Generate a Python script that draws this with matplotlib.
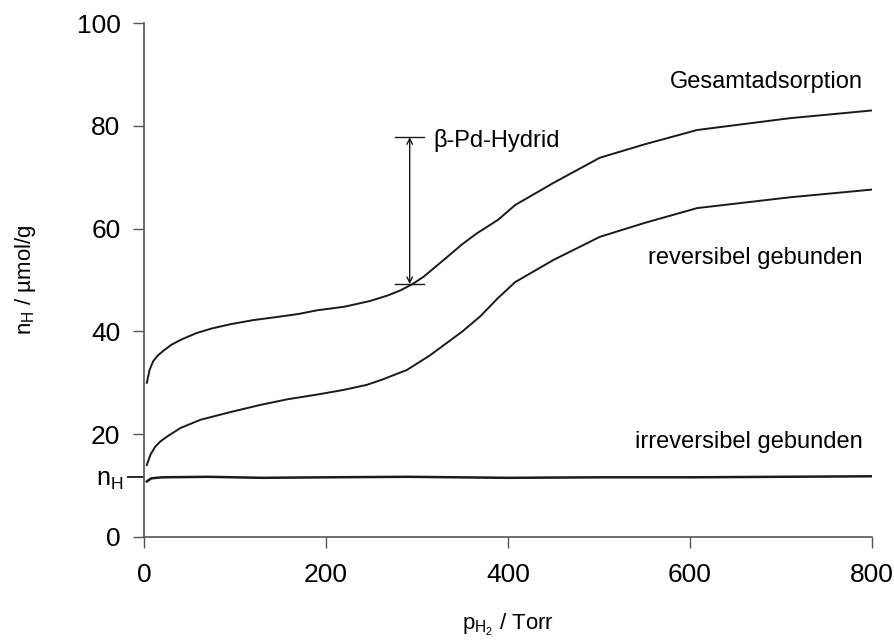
import numpy as np
import matplotlib
matplotlib.use("Agg")
import matplotlib.pyplot as plt

plt.rcParams['font.family'] = ['Liberation Sans', 'DejaVu Sans']
plt.rcParams['mathtext.fontset'] = 'custom'
plt.rcParams['mathtext.rm'] = 'Liberation Sans'
plt.rcParams['mathtext.it'] = 'Liberation Sans'

# Gesamtadsorption
p_ges = [3, 6, 10, 15, 21, 30, 42, 58, 75, 95, 120, 146, 170, 190, 220, 248, 268, 282, 295,
         307, 330, 350, 366, 389, 408, 450, 501, 550, 608, 710, 800]
n_ges = [30.0, 32.5, 34.2, 35.3, 36.2, 37.4, 38.5, 39.7, 40.6, 41.4, 42.2, 42.8, 43.4, 44.1, 44.8,
         45.9, 47.0, 48.0, 49.2, 50.6, 54.0, 57.0, 59.1, 61.7, 64.6, 68.9, 73.8, 76.4, 79.2, 81.5, 83.0]

# reversibel gebunden
p_rev = [3, 7, 12, 18, 25, 40, 62, 95, 128, 158, 190, 219, 245, 263, 289, 314, 350, 370, 388,
         408, 450, 501, 550, 608, 710, 800]
n_rev = [14.0, 16.0, 17.5, 18.6, 19.5, 21.2, 22.8, 24.3, 25.7, 26.8, 27.7, 28.6, 29.6, 30.7,
         32.5, 35.3, 40.0, 43.0, 46.3, 49.6, 53.9, 58.4, 61.1, 64.0, 66.1, 67.6]

# irreversibel gebunden
p_irr = [3, 8, 20, 70, 130, 200, 290, 400, 500, 600, 700, 800]
n_irr = [10.8, 11.4, 11.6, 11.7, 11.5, 11.6, 11.7, 11.5, 11.6, 11.6, 11.7, 11.8]

n_H = 11.6
hydrid_x = 292
hydrid_lo, hydrid_hi = 49.2, 77.8

fig, ax = plt.subplots(figsize=(8.95, 6.43), dpi=100)
fig.subplots_adjust(left=0.161, right=0.974, bottom=0.165, top=0.964)

ax.plot(p_ges, n_ges, color='#1a1a1a', lw=1.4)
ax.plot(p_rev, n_rev, color='#1a1a1a', lw=1.4)
ax.plot(p_irr, n_irr, color='#1a1a1a', lw=1.8)

# beta-Hydrid Pfeil
ax.annotate('', xy=(hydrid_x, hydrid_hi), xytext=(hydrid_x, hydrid_lo),
            arrowprops=dict(arrowstyle='<->', color='#1a1a1a', lw=1.0,
                            shrinkA=0, shrinkB=0))
for yv in (hydrid_lo, hydrid_hi):
    ax.plot([hydrid_x - 16, hydrid_x + 16], [yv, yv], color='#1a1a1a', lw=1.0)

ax.text(318, 77.2, 'β-Pd-Hydrid', fontsize=17, va='center', ha='left')
ax.text(790, 88.5, 'Gesamtadsorption', fontsize=17, va='center', ha='right')
ax.text(790, 54.3, 'reversibel gebunden', fontsize=17, va='center', ha='right')
ax.text(790, 18.5, 'irreversibel gebunden', fontsize=17, va='center', ha='right')

ax.set_xlim(0, 800)
ax.set_ylim(0, 100)
ax.set_xticks([0, 200, 400, 600, 800])
ax.set_yticks([0, 20, 40, 60, 80, 100])
ax.set_yticks([n_H], minor=True)
ax.set_yticklabels([r'n$_\mathrm{H}$'], minor=True)
ax.tick_params(which='major', direction='out', length=8, width=1, labelsize=19,
               color='#555555')
ax.tick_params(axis='y', which='major', pad=9)
ax.tick_params(axis='x', which='major', pad=11)
ax.tick_params(axis='y', which='minor', direction='out', length=12, width=1.3,
               labelsize=18, color='#1a1a1a', pad=3)

for s in ('top', 'right'):
    ax.spines[s].set_visible(False)
for s in ('left', 'bottom'):
    ax.spines[s].set_color('#555555')
    ax.spines[s].set_linewidth(1.2)

ax.set_xlabel(r'p$_{\mathrm{H}_2}$ / Torr', fontsize=16, labelpad=18)
ax.set_ylabel(r'n$_\mathrm{H}$ / µmol/g', fontsize=16, labelpad=28)

fig.savefig('out.png', dpi=100)
